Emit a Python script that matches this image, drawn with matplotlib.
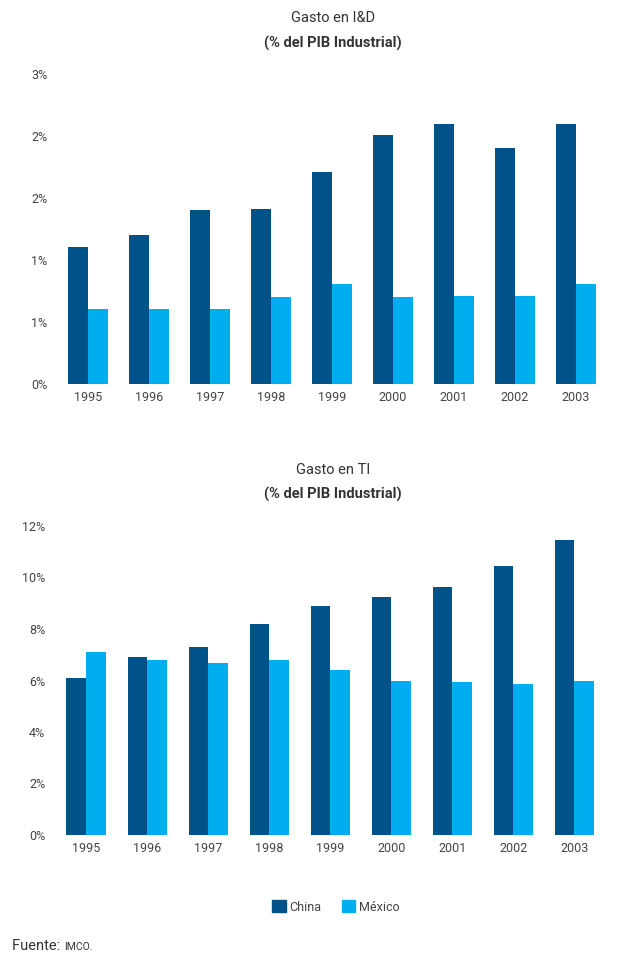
import matplotlib.pyplot as plt
from matplotlib.patches import Patch
import numpy as np

years = ['1995', '1996', '1997', '1998', '1999', '2000', '2001', '2002', '2003']
# Gasto en I&D (% del PIB Industrial)
id_china = [1.105, 1.20, 1.40, 1.41, 1.71, 2.01, 2.10, 1.90, 2.10]
id_mexico = [0.605, 0.605, 0.605, 0.70, 0.81, 0.70, 0.71, 0.71, 0.81]
id_ticks = [0, 0.5, 1.0, 1.5, 2.0, 2.5]
id_labels = ['0%', '1%', '1%', '2%', '2%', '3%']
# Gasto en TI (% del PIB Industrial)
ti_china = [6.1, 6.9, 7.3, 8.2, 8.9, 9.25, 9.63, 10.45, 11.46]
ti_mexico = [7.1, 6.8, 6.68, 6.8, 6.4, 5.98, 5.94, 5.86, 5.98]
ti_ticks = [0, 2, 4, 6, 8, 10, 12]
ti_labels = ['0%', '2%', '4%', '6%', '8%', '10%', '12%']

c_china = '#005288'
c_mex = '#00adef'
txt = '#333333'
plt.rcParams['font.family'] = ['Roboto', 'DejaVu Sans']

W, H = 627, 959
fig = plt.figure(figsize=(W / 100, H / 100), dpi=100)


def draw(rect, china, mex, ticks, labels, ymax):
    ax = fig.add_axes(rect)
    x = np.arange(len(years))
    w = 0.32
    ax.bar(x - w / 2, china, w, color=c_china)
    ax.bar(x + w / 2, mex, w, color=c_mex)
    ax.set_xlim(-0.6, 8.6)
    ax.set_ylim(0, ymax)
    ax.set_xticks(x)
    ax.set_xticklabels(years)
    ax.set_yticks(ticks)
    ax.set_yticklabels(labels)
    ax.tick_params(length=0, labelsize=9, colors='#444444')
    ax.tick_params(axis='y', pad=3)
    ax.tick_params(axis='x', pad=5)
    for s in ax.spines.values():
        s.set_visible(False)
    return ax


draw([51.4 / W, 1 - 384 / H, 561.2 / W, 310 / H], id_china, id_mexico, id_ticks, id_labels, 2.5)
draw([49.4 / W, 1 - 835 / H, 561.7 / W, 309 / H], ti_china, ti_mexico, ti_ticks, ti_labels, 12)

cx = 333 / W
fig.text(cx, 1 - 18 / H, 'Gasto en I&D', ha='center', va='center', fontsize=10.5, color=txt)
fig.text(cx, 1 - 43 / H, '(% del PIB Industrial)', ha='center', va='center', fontsize=10.5,
         fontweight='bold', color=txt)
fig.text(cx, 1 - 470 / H, 'Gasto en TI', ha='center', va='center', fontsize=10.5, color=txt)
fig.text(cx, 1 - 494 / H, '(% del PIB Industrial)', ha='center', va='center', fontsize=10.5,
         fontweight='bold', color=txt)

handles = [Patch(color=c_china, label='China'), Patch(color=c_mex, label='México')]
leg = fig.legend(handles=handles, loc='center', bbox_to_anchor=(336 / W, 1 - 907 / H), ncol=2,
                 frameon=False, fontsize=9, handlelength=1.1, handleheight=1.1,
                 handletextpad=0.3, columnspacing=1.6)
for t in leg.get_texts():
    t.set_color('#444444')

src = fig.text(12 / W, 1 - 950 / H, 'Fuente: ', ha='left', va='baseline', fontsize=10.5, color=txt)
r = fig.canvas.get_renderer()
bb = src.get_window_extent(renderer=r)
fig.text(bb.x1 / W, 1 - 950 / H, 'IMCO.', ha='left', va='baseline', fontsize=7.5, color=txt)

fig.savefig('out.png', dpi=100)
